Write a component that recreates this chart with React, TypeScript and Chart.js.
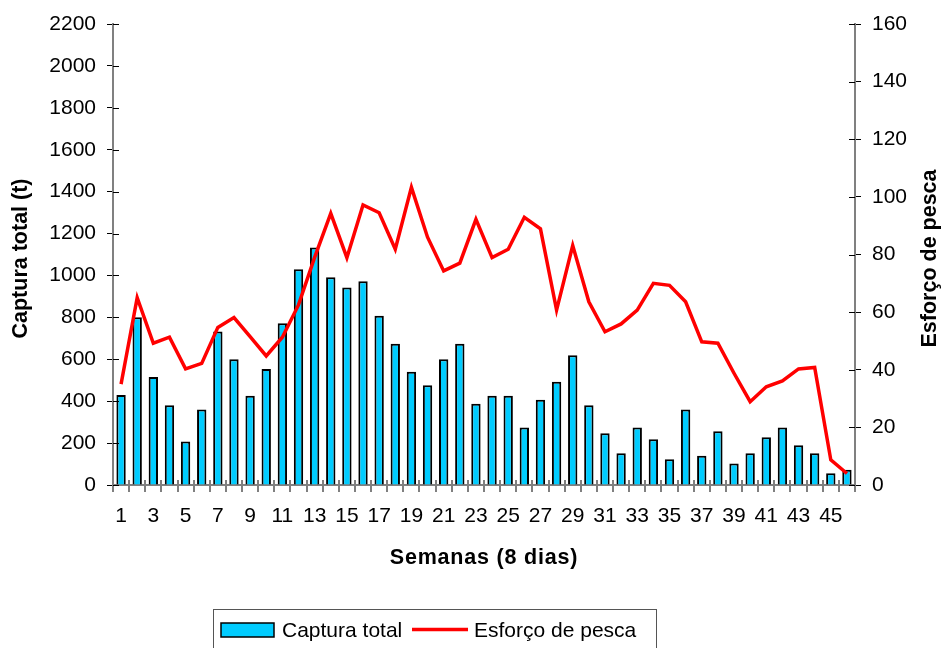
import React, { useEffect, useRef } from "react";
import { Chart, registerables } from "chart.js";

Chart.register(...registerables);

const semanas: string[] = Array.from({ length: 46 }, (_, i) => String(i + 1));

const capturaTotal: number[] = [
  430, 800, 515, 380, 207, 360, 733, 600, 426, 554,
  772, 1030, 1134, 991, 942, 972, 808, 674, 541, 476,
  600, 674, 388, 426, 426, 274, 407, 493, 619, 380,
  247, 151, 274, 218, 123, 360, 140, 256, 103, 151,
  228, 274, 190, 151, 56, 73,
];

const esforcoPesca: number[] = [
  35, 65, 49.2, 51.3, 40.3, 42.2, 54.7, 58.1, 51.5, 44.8,
  51.3, 62.5, 79, 94.3, 78.9, 97.2, 94.5, 81.8, 103.3, 86,
  74.3, 77, 92.2, 78.9, 81.8, 92.9, 88.9, 60.7, 83.1, 63.6,
  53.2, 55.9, 60.7, 70, 69.3, 63.6, 49.7, 49.2, 38.8, 28.9,
  34.1, 36.1, 40.3, 40.8, 8.7, 4,
];

const leftTicks = { min: 0, max: 2200, step: 200 };
const rightTicks = { min: 0, max: 160, step: 20 };

const tituloY = "Captura total (t)";
const tituloY1 = "Esforço de pesca";
const tituloX = "Semanas (8 dias)";

const FONT = "'Liberation Sans', Arial, sans-serif";

const decorPlugin = {
  id: "decor",
  afterDraw(chart: any) {
    const ctx = chart.ctx as CanvasRenderingContext2D;
    const area = chart.chartArea;
    const y = chart.scales.y;
    const y1 = chart.scales.y1;
    ctx.save();
    // inward tick parts
    ctx.strokeStyle = "#000";
    ctx.lineWidth = 1;
    y.ticks.forEach((t: any) => {
      const py = Math.round(y.getPixelForValue(t.value)) + 0.5;
      ctx.beginPath();
      ctx.moveTo(area.left, py);
      ctx.lineTo(area.left + 6, py);
      ctx.stroke();
    });
    y1.ticks.forEach((t: any) => {
      const py = Math.round(y1.getPixelForValue(t.value)) + 0.5;
      ctx.beginPath();
      ctx.moveTo(area.right - 6, py);
      ctx.lineTo(area.right, py);
      ctx.stroke();
    });
    ctx.strokeStyle = "#808080";
    ctx.lineWidth = 2;
    const n = semanas.length;
    const cw = (area.right - area.left) / n;
    for (let i = 0; i <= n; i++) {
      const px = Math.round(area.left + i * cw);
      ctx.beginPath();
      ctx.moveTo(px, area.bottom - 5);
      ctx.lineTo(px, area.bottom);
      ctx.stroke();
    }

    // titles
    ctx.fillStyle = "#000";
    ctx.font = `bold 21.5px ${FONT}`;
    ctx.textAlign = "center";
    ctx.textBaseline = "middle";
    const cy = (area.top + area.bottom) / 2 + 4;
    ctx.save();
    ctx.translate(21, cy);
    ctx.rotate(-Math.PI / 2);
    ctx.fillText(tituloY, 0, 0);
    ctx.restore();
    ctx.save();
    ctx.translate(930, cy);
    ctx.rotate(-Math.PI / 2);
    ctx.fillText(tituloY1, 0, 0);
    ctx.restore();
    ctx.save();
    (ctx as any).letterSpacing = "0.8px";
    ctx.fillText(tituloX, (area.left + area.right) / 2, 558);
    ctx.restore();

    // legend
    const ds = chart.data.datasets;
    ctx.strokeStyle = "#555";
    ctx.lineWidth = 1;
    ctx.strokeRect(213.5, 609.5, 443, 60);
    ctx.fillStyle = ds[0].backgroundColor;
    ctx.fillRect(221, 623, 53, 14);
    ctx.strokeStyle = "#000";
    ctx.lineWidth = 1.5;
    ctx.strokeRect(221, 623, 53, 14);
    ctx.font = `21px ${FONT}`;
    ctx.textAlign = "left";
    ctx.textBaseline = "alphabetic";
    ctx.fillStyle = "#000";
    ctx.fillText(ds[0].label, 282, 637);
    ctx.strokeStyle = ds[1].borderColor;
    ctx.lineWidth = 3.5;
    ctx.beginPath();
    ctx.moveTo(412, 629.5);
    ctx.lineTo(468, 629.5);
    ctx.stroke();
    ctx.fillText(ds[1].label, 474, 637);
    ctx.restore();
  },
};

export default function App() {
  const ref = useRef<HTMLCanvasElement | null>(null);
  useEffect(() => {
    if (!ref.current) return;
    const tickFont = { family: FONT, size: 21 };
    const plain = (v: any) => String(v);
    const chart = new Chart(ref.current, {
      type: "bar",
      data: {
        labels: semanas,
        datasets: [
          {
            type: "bar",
            label: "Captura total",
            data: capturaTotal,
            backgroundColor: "#00CCFF",
            borderColor: "#000000",
            borderWidth: 2,
            barPercentage: 0.58,
            categoryPercentage: 1,
            yAxisID: "y",
            order: 2,
          } as any,
          {
            type: "line",
            label: "Esforço de pesca",
            data: esforcoPesca,
            borderColor: "#FF0000",
            backgroundColor: "#FF0000",
            borderWidth: 3.5,
            pointRadius: 0,
            tension: 0,
            yAxisID: "y1",
            order: 1,
          } as any,
        ],
      },
      options: {
        animation: false,
        responsive: false,
        layout: { padding: { top: 24, left: 0, right: 0, bottom: 0 } },
        plugins: { legend: { display: false }, tooltip: { enabled: false } },
        scales: {
          x: {
            offset: true,
            grid: {
              offset: true,
              drawOnChartArea: false,
              drawTicks: true,
              tickLength: 7,
              color: "#808080",
              lineWidth: 2,
            },
            border: { display: true, color: "#808080", width: 2 },
            ticks: {
              autoSkip: false,
              maxRotation: 0,
              minRotation: 0,
              padding: 12,
              color: "#000",
              font: tickFont,
              callback: (_v: any, i: number) => (i % 2 === 0 ? semanas[i] : ""),
            },
            afterFit: (s: any) => {
              s.height = 163;
            },
          },
          y: {
            position: "left",
            min: leftTicks.min,
            max: leftTicks.max,
            ticks: { stepSize: leftTicks.step, padding: 11, color: "#000", font: tickFont, callback: plain },
            grid: { drawOnChartArea: false, drawTicks: true, tickLength: 6, color: "#000", lineWidth: 1 },
            border: { display: true, color: "#808080", width: 2 },
            afterFit: (s: any) => {
              s.width = 113;
            },
          },
          y1: {
            position: "right",
            min: rightTicks.min,
            max: rightTicks.max,
            ticks: { stepSize: rightTicks.step, padding: 11, color: "#000", font: tickFont, callback: plain },
            grid: { drawOnChartArea: false, drawTicks: true, tickLength: 6, color: "#000", lineWidth: 1 },
            border: { display: true, color: "#808080", width: 2 },
            afterFit: (s: any) => {
              s.width = 86;
            },
          },
        },
      } as any,
      plugins: [decorPlugin],
    });
    return () => chart.destroy();
  }, []);
  return (
    <div style={{ position: "fixed", left: 0, top: 0, width: 941, height: 648, background: "#fff" }}>
      <canvas ref={ref} width={941} height={648} style={{ display: "block" }} />
    </div>
  );
}
